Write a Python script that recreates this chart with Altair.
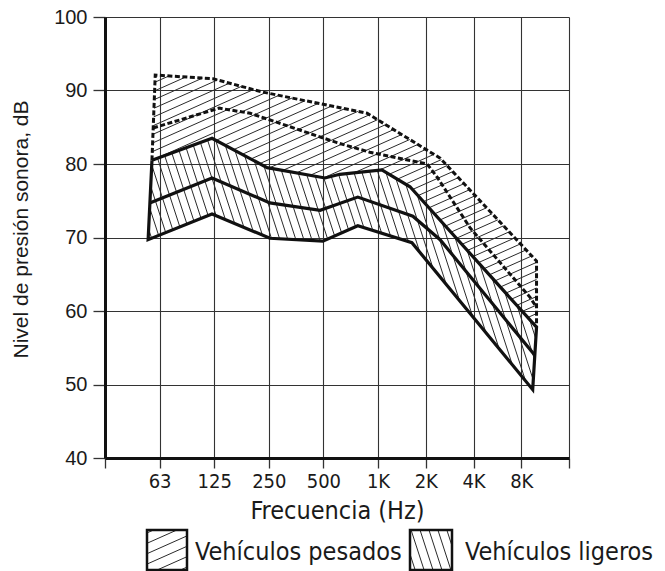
import numpy as np
import pandas as pd
import altair as alt

# Octave bands on the frequency axis (position 1 = 63 Hz ... 8 = 8 kHz)
BANDAS = ["63", "125", "250", "500", "1K", "2K", "4K", "8K"]
LEYENDA = ["Vehículos pesados", "Vehículos ligeros"]

# Heavy vehicles: upper limit and central curve (band position, dB)
pes_max_pos = [0.92, 1.98, 2.88, 4.80, 6.30, 8.32]
pes_max_db = [92.1, 91.6, 89.8, 86.9, 80.8, 66.8]
pes_med_pos = [0.88, 2.09, 2.66, 4.25, 4.85, 6.03, 6.24, 6.93, 8.18, 8.32]
pes_med_db = [84.9, 87.6, 86.9, 82.9, 81.6, 80.0, 78.2, 71.3, 61.9, 60.5]

# Light vehicles: upper limit, central curve and lower limit
lig_max_pos = [0.86, 1.96, 2.97, 4.03, 4.30, 5.08, 5.67, 8.32]
lig_max_db = [80.5, 83.5, 79.5, 78.1, 78.6, 79.2, 76.9, 57.8]
lig_med_pos = [0.82, 1.96, 3.02, 3.94, 4.63, 5.73, 6.30, 8.28]
lig_med_db = [74.7, 78.1, 74.7, 73.7, 75.5, 72.9, 69.7, 54.0]
lig_min_pos = [0.79, 1.96, 3.02, 3.99, 4.63, 5.71, 8.24]
lig_min_db = [69.7, 73.2, 69.9, 69.5, 71.6, 69.3, 49.3]

# Plot geometry and scales (piecewise x scale: the grid is wider below 1 kHz)
W, H = 464, 441
X_DOM = [0, 5, 9]
X_RNG = [0, 273, 464]
Y_DOM = [40, 100]

FONT_CAD = "DejaVu Sans Condensed, DejaVu Sans"
FONT_Y = "Liberation Sans"
INK = "#111111"


def to_px(pos, db):
    return np.column_stack([
        np.interp(pos, X_DOM, X_RNG),
        (Y_DOM[1] - np.asarray(db, float)) / (Y_DOM[1] - Y_DOM[0]) * H,
    ])


def from_px(pts):
    pts = np.asarray(pts, float)
    return (np.interp(pts[:, 0], X_RNG, X_DOM),
            Y_DOM[1] - pts[:, 1] * (Y_DOM[1] - Y_DOM[0]) / H)


def hatch(poly, angle, spacing):
    """Parallel hatch segments clipped to a polygon (screen units)."""
    poly = np.asarray(poly, float)
    th = np.radians(angle)
    d = np.array([np.cos(th), np.sin(th)])
    n = np.array([-d[1], d[0]])
    c = poly.mean(axis=0)
    proj = (poly - c) @ n
    edges = list(zip(poly, np.roll(poly, -1, axis=0)))
    segs = []
    start = np.floor(proj.min() / spacing) * spacing + spacing / 2
    for s in np.arange(start, proj.max(), spacing):
        p0 = c + s * n
        ts = []
        for a, b in edges:
            e = b - a
            den = d[0] * e[1] - d[1] * e[0]
            if abs(den) < 1e-12:
                continue
            w = a - p0
            t = (w[0] * e[1] - w[1] * e[0]) / den
            u = (w[0] * d[1] - w[1] * d[0]) / den
            if 0 <= u < 1:
                ts.append(t)
        ts.sort()
        for t0, t1 in zip(ts[0::2], ts[1::2]):
            segs.append((p0 + t0 * d, p0 + t1 * d))
    return segs


def seg_frame(segs):
    x, y = from_px([s[0] for s in segs])
    x2, y2 = from_px([s[1] for s in segs])
    return pd.DataFrame({"x": x, "y": y, "x2": x2, "y2": y2})


def path_frame(pos, db):
    return pd.DataFrame({"x": pos, "y": db, "i": range(len(pos))})


# Outlines of both bands
pes_out_pos = [lig_max_pos[0]] + pes_max_pos + [lig_max_pos[-1]]
pes_out_db = [lig_max_db[0]] + pes_max_db + [lig_max_db[-1]]
lig_out_pos = lig_max_pos + lig_min_pos[::-1] + [lig_max_pos[0]]
lig_out_db = lig_max_db + lig_min_db[::-1] + [lig_max_db[0]]

lig_max_px = to_px(lig_max_pos, lig_max_db)
pes_poly = np.vstack([to_px(pes_out_pos, pes_out_db), lig_max_px[::-1][1:-1]])
lig_poly = np.vstack([lig_max_px, to_px(lig_min_pos, lig_min_db)[::-1]])

# Legend swatches (screen units relative to the plot origin)
BOX_PES = (42, 513, 82, 553)
BOX_LIG = (305, 513, 347, 553)


def box_poly(b):
    return [(b[0], b[1]), (b[2], b[1]), (b[2], b[3]), (b[0], b[3])]


hatch_pes = seg_frame(hatch(pes_poly, -24, 7.8) + hatch(box_poly(BOX_PES), -24, 9.5))
hatch_lig = seg_frame(hatch(lig_poly, 72, 7.6) + hatch(box_poly(BOX_LIG), 72, 8.5))

x_scale = alt.Scale(domain=X_DOM, range=X_RNG)
y_scale = alt.Scale(domain=Y_DOM, nice=False, zero=False)

x_labels = "[" + ",".join(repr(s) for s in [""] + BANDAS + [""]) + "][datum.value]"

x_axis = alt.Axis(
    values=list(range(10)), labelExpr=x_labels, title="Frecuencia (Hz)",
    grid=True, gridColor="#333333", gridWidth=1.1,
    domainColor=INK, domainWidth=3, tickColor="#333333", tickWidth=1.3, tickSize=10,
    labelFont=FONT_CAD, labelFontSize=20, labelColor="#1a1a1a",
    labelBaseline="alphabetic", labelPadding=19, labelOverlap=False, labelFlush=False,
    titleFont=FONT_CAD, titleFontSize=25, titleFontWeight="normal", titleColor="#1a1a1a",
    titleBaseline="alphabetic", titleY=60,
)
y_axis = alt.Axis(
    values=list(range(40, 101, 10)), title="Nivel de presión sonora, dB",
    grid=True, gridColor="#333333", gridWidth=1.1,
    domainColor=INK, domainWidth=3, tickColor="#333333", tickWidth=1.3, tickSize=12,
    labelFont=FONT_Y, labelFontSize=20, labelColor="#1a1a1a", labelPadding=6,
    titleFont=FONT_Y, titleFontSize=21, titleFontWeight="normal", titleColor="#1a1a1a",
    titleBaseline="middle", titleX=-84, titleY=212,
)


def enc_xy():
    return dict(x=alt.X("x:Q", scale=x_scale, axis=x_axis),
                y=alt.Y("y:Q", scale=y_scale, axis=y_axis))


rules_pes = alt.Chart(hatch_pes).mark_rule(color="#2a2a2a", strokeWidth=1).encode(
    x2="x2:Q", y2="y2:Q", **enc_xy())
rules_lig = alt.Chart(hatch_lig).mark_rule(color="#2a2a2a", strokeWidth=1).encode(
    x2="x2:Q", y2="y2:Q", **enc_xy())

dashed = dict(color=INK, strokeWidth=3, strokeDash=[5, 2.5], strokeCap="butt")
solid = dict(color=INK, strokeWidth=3.2, strokeJoin="miter")

line_pes_out = alt.Chart(path_frame(pes_out_pos, pes_out_db)).mark_line(**dashed).encode(
    order="i:Q", **enc_xy())
line_pes_med = alt.Chart(path_frame(pes_med_pos, pes_med_db)).mark_line(**dashed).encode(
    order="i:Q", **enc_xy())
line_lig_out = alt.Chart(path_frame(lig_out_pos, lig_out_db)).mark_line(**solid).encode(
    order="i:Q", **enc_xy())
line_lig_med = alt.Chart(path_frame(lig_med_pos, lig_med_db)).mark_line(**solid).encode(
    order="i:Q", **enc_xy())


def legend_item(label, box, text_x):
    df = pd.DataFrame({"t": [label]})
    rect = alt.Chart(df).mark_rect(fillOpacity=0, stroke=INK, strokeWidth=2.5).encode(
        x=alt.value(box[0]), x2=alt.value(box[2]), y=alt.value(box[1]), y2=alt.value(box[3]))
    text = alt.Chart(df).mark_text(
        align="left", baseline="alphabetic", font=FONT_CAD, fontSize=25, color="#1a1a1a"
    ).encode(text="t:N", x=alt.value(text_x), y=alt.value(543))
    return rect + text


chart = alt.layer(
    rules_pes, rules_lig,
    line_pes_out, line_pes_med, line_lig_out, line_lig_med,
    legend_item(LEYENDA[0], BOX_PES, 90),
    legend_item(LEYENDA[1], BOX_LIG, 360),
).properties(
    width=W, height=H,
    autosize=alt.AutoSizeParams(type="none"),
    padding={"left": 105, "top": 17, "right": 96, "bottom": 113},
).configure_view(stroke="transparent")

chart.save("out.html", embed_options={"renderer": "svg", "actions": False})
